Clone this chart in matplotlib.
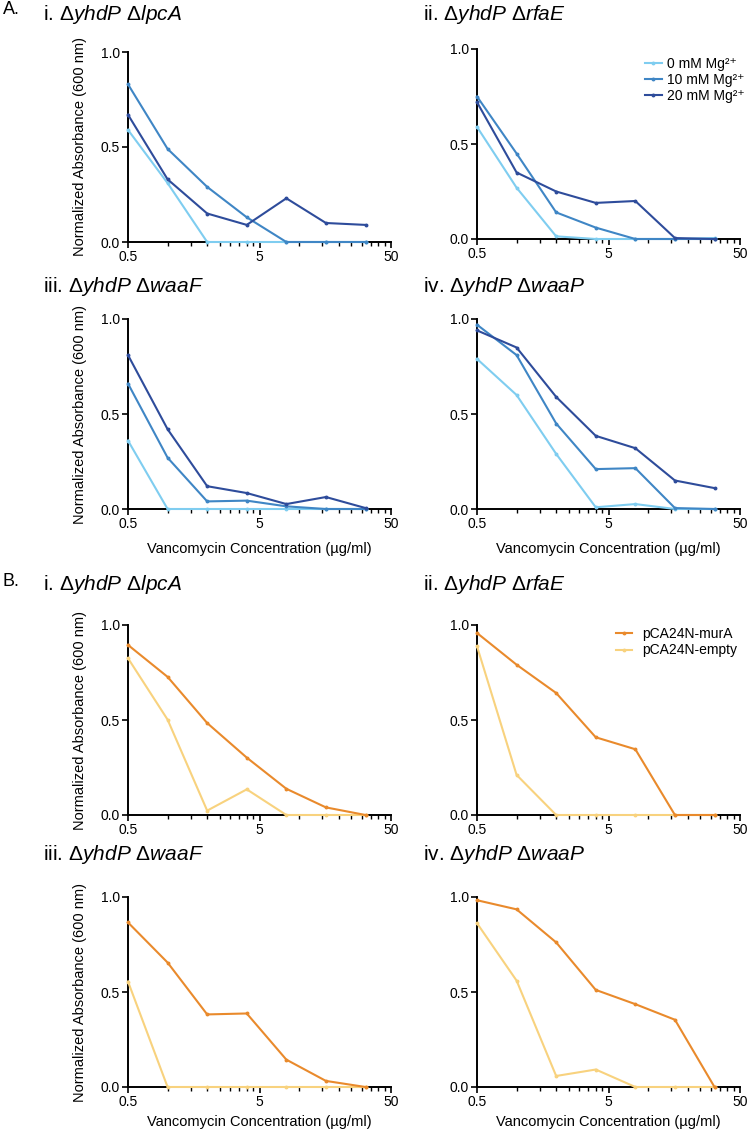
import numpy as np
import matplotlib
matplotlib.use("Agg")
import matplotlib.pyplot as plt
from matplotlib.ticker import FixedLocator, FixedFormatter, NullFormatter

plt.rcParams['font.family'] = ['Liberation Sans', 'DejaVu Sans']
plt.rcParams['mathtext.fontset'] = 'custom'
plt.rcParams['mathtext.rm'] = 'Liberation Sans'
plt.rcParams['mathtext.it'] = 'Liberation Sans:italic'

# vancomycin concentrations (ug/ml), two-fold dilutions
conc = [0.5, 1, 2, 4, 8, 16, 32]

# panel A: Mg2+ supplementation
mg_labels = ['0 mM Mg²⁺', '10 mM Mg²⁺', '20 mM Mg²⁺']
lpcA_mg = [[0.59, 0.31, 0.0, 0.0, 0.0, 0.0, 0.0],
           [0.83, 0.49, 0.29, 0.13, 0.0, 0.0, 0.0],
           [0.67, 0.33, 0.15, 0.09, 0.23, 0.10, 0.09]]
rfaE_mg = [[0.59, 0.27, 0.014, 0.0, 0.0, 0.0, 0.005],
           [0.75, 0.45, 0.14, 0.06, 0.0, 0.0, 0.0],
           [0.72, 0.35, 0.25, 0.19, 0.20, 0.005, 0.0]]
waaF_mg = [[0.36, 0.0, 0.0, 0.0, 0.0, 0.0, 0.0],
           [0.66, 0.27, 0.04, 0.044, 0.014, 0.0, 0.0],
           [0.81, 0.42, 0.12, 0.084, 0.026, 0.063, 0.005]]
waaP_mg = [[0.79, 0.60, 0.29, 0.009, 0.026, 0.0, 0.0],
           [0.97, 0.81, 0.45, 0.21, 0.215, 0.005, 0.0],
           [0.94, 0.85, 0.59, 0.385, 0.32, 0.15, 0.11]]

# panel B: murA overexpression
murA_labels = ['pCA24N-murA', 'pCA24N-empty']
lpcA_mur = [[0.895, 0.727, 0.484, 0.302, 0.138, 0.04, 0.0],
            [0.825, 0.502, 0.023, 0.135, 0.0, 0.0, 0.0]]
rfaE_mur = [[0.958, 0.791, 0.642, 0.409, 0.346, 0.0, 0.0],
            [0.888, 0.211, 0.0, 0.0, 0.0, 0.0, 0.0]]
waaF_mur = [[0.866, 0.655, 0.382, 0.387, 0.144, 0.032, 0.0],
            [0.555, 0.0, 0.0, 0.0, 0.0, 0.0, 0.0]]
waaP_mur = [[0.983, 0.935, 0.761, 0.511, 0.436, 0.354, 0.0],
            [0.862, 0.56, 0.058, 0.092, 0.0, 0.0, 0.0]]

titles = [r'i. Δ$\mathit{yhdP}$ Δ$\mathit{lpcA}$',
          r'ii. Δ$\mathit{yhdP}$ Δ$\mathit{rfaE}$',
          r'iii. Δ$\mathit{yhdP}$ Δ$\mathit{waaF}$',
          r'iv. Δ$\mathit{yhdP}$ Δ$\mathit{waaP}$']

blues = ['#7fcdf0', '#3f86c5', '#2e4c9b']
oranges = ['#e98a2c', '#f8d27e']

W, H = 750, 1130
fig = plt.figure(figsize=(7.5, 11.3), dpi=100)

def px_rect(x0, x1, ybot, h=190):
    return [x0 / W, 1 - ybot / H, (x1 - x0) / W, h / H]

col_x = [(128, 391), (477, 740)]
row_bottom = [(242, 239), (509, 509), (815, 815), (1087, 1087)]


def style_axis(ax, left, bottom, last_row):
    ax.set_xscale('log')
    ax.set_xlim(0.5, 50)
    ax.set_ylim(0, 1.0)
    for s in ['top', 'right']:
        ax.spines[s].set_visible(False)
    for s in ['left', 'bottom']:
        ax.spines[s].set_linewidth(1.4)
    ax.xaxis.set_major_locator(FixedLocator([0.5, 5, 50]))
    ax.xaxis.set_major_formatter(FixedFormatter(['0.5', '5', '50']))
    minors = list(np.arange(1, 5, 0.5)) + list(np.arange(10, 50, 5))
    ax.xaxis.set_minor_locator(FixedLocator(minors))
    ax.xaxis.set_minor_formatter(NullFormatter())
    ax.set_yticks([0, 0.5, 1.0])
    ax.set_yticklabels(['0.0', '0.5', '1.0'])
    ax.tick_params(which='major', direction='out', length=4, width=1.2, labelsize=10, pad=2)
    ax.tick_params(which='minor', direction='out', length=3, width=1.0)
    if left:
        ax.set_ylabel('Normalized Absorbance (600 nm)', fontsize=10.5, labelpad=10)
    if bottom:
        ax.set_xlabel('Vancomycin Concentration (µg/ml)', fontsize=10.5,
                      labelpad=4 if last_row else 8)


groups = [[lpcA_mg, rfaE_mg, waaF_mg, waaP_mg],
          [lpcA_mur, rfaE_mur, waaF_mur, waaP_mur]]

for g in range(2):
    for k in range(4):
        r = g * 2 + k // 2
        c = k % 2
        x0, x1 = col_x[c]
        ax = fig.add_axes(px_rect(x0, x1, row_bottom[r][c]))
        style_axis(ax, c == 0, k // 2 == 1, r == 3)
        data = groups[g][k]
        if g == 0:
            cols, labs = blues, mg_labels
        else:
            cols, labs = oranges, murA_labels
        # light series drawn last in B, like the reference
        order = range(len(data)) if g == 0 else [1, 0]
        for i in order:
            ax.plot(conc, data[i], color=cols[i], lw=1.5, marker='o', ms=1.8,
                    label=labs[i], clip_on=False, zorder=3)
        if k == 1:
            h, l = ax.get_legend_handles_labels()
            idx = sorted(range(len(l)), key=lambda j: labs.index(l[j]))
            if g == 0:
                ax.legend([h[j] for j in idx], [l[j] for j in idx], loc='upper right',
                          bbox_to_anchor=(1.05, 1.0), frameon=False, fontsize=10,
                          handlelength=1.2, handletextpad=0.4, labelspacing=0.12,
                          borderaxespad=0.2)
            else:
                ax.legend([h[j] for j in idx], [l[j] for j in idx], loc='upper right',
                          bbox_to_anchor=(1.02, 1.035), frameon=False, fontsize=10,
                          handlelength=1.2, handletextpad=0.7, labelspacing=0.2,
                          borderaxespad=0.2)
        # panel title
        tx = 43 if c == 0 else 423
        ty = [15, 287, 585, 855][r]
        fig.text(tx / W, 1 - ty / H, titles[k], fontsize=15, va='center', ha='left')

fig.text(3 / W, 1 - 10 / H, 'A.', fontsize=13, va='center', ha='left')
fig.text(3 / W, 1 - 581 / H, 'B.', fontsize=13, va='center', ha='left')

fig.savefig('out.png', dpi=100)
